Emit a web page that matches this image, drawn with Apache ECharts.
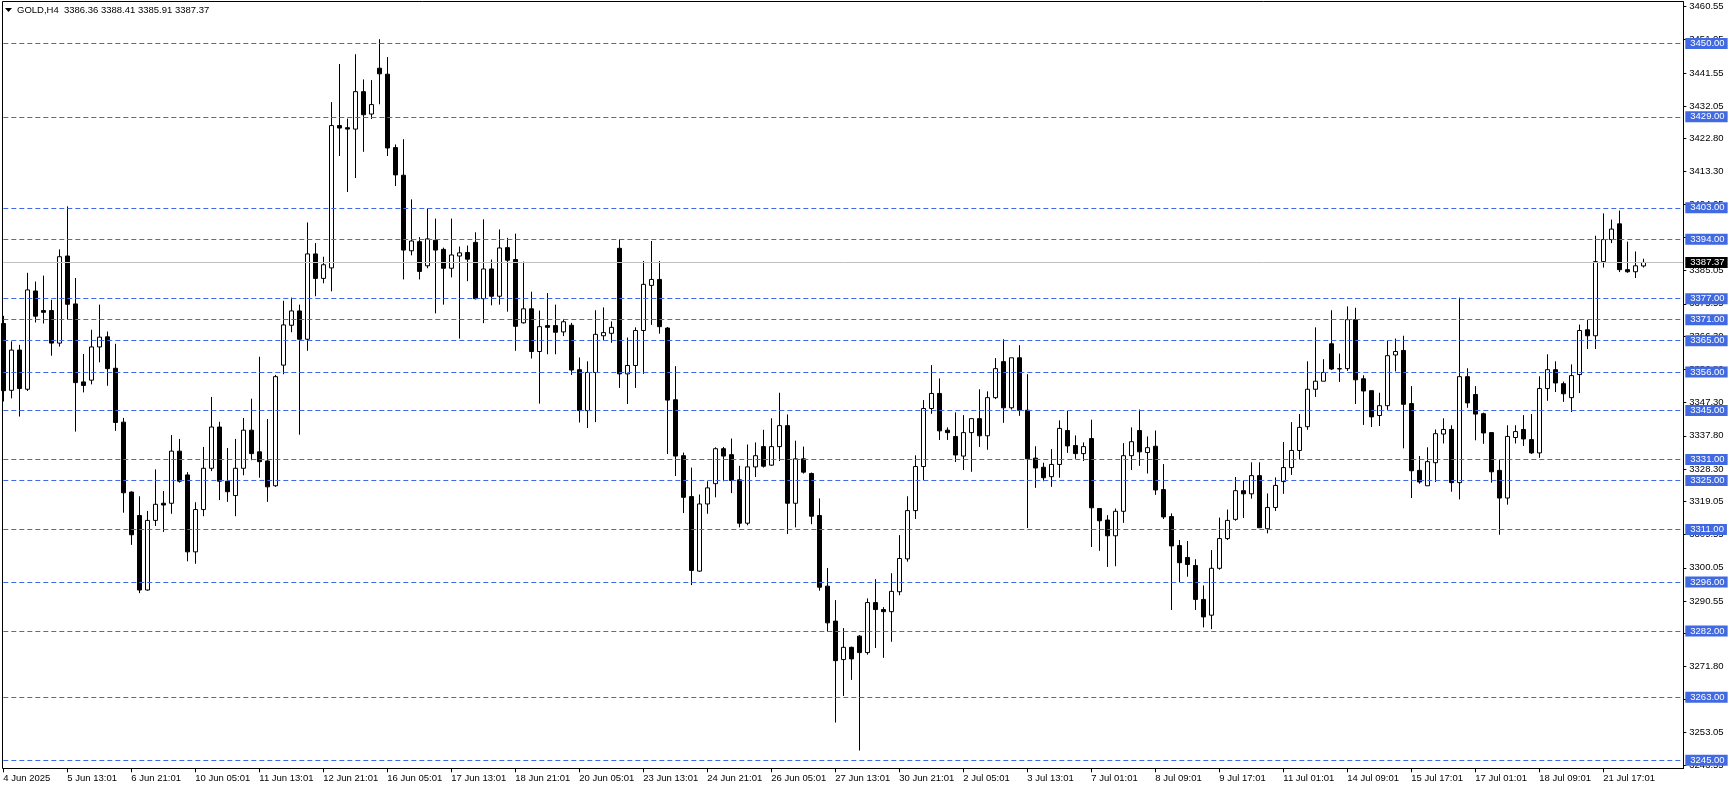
<!DOCTYPE html>
<html><head><meta charset="utf-8">
<script src="https://cdn.jsdelivr.net/npm/echarts@6/dist/echarts.min.js"></script>
<style>html,body{margin:0;padding:0;background:#fff}#c{width:1729px;height:789px}</style>
</head><body><div id="c"></div>
<script>
// ---- DATA ----
const tradingDays = ['4 Jun','5 Jun','6 Jun','9 Jun','10 Jun','11 Jun','12 Jun','13 Jun','16 Jun','17 Jun','18 Jun','19 Jun','20 Jun','23 Jun','24 Jun','25 Jun','26 Jun','27 Jun','30 Jun','1 Jul','2 Jul','3 Jul','4 Jul','7 Jul','8 Jul','9 Jul','10 Jul','11 Jul','14 Jul','15 Jul','16 Jul','17 Jul','18 Jul','21 Jul','22 Jul'];
const barHours = ['01:01','05:01','09:01','13:01','17:01','21:01'];
const missingBars = ['4 Jun 01:01','4 Jul 21:01'];
const firstLabel = '4 Jun 2025';
const tickLabels = ['5 Jun 13:01','6 Jun 21:01','10 Jun 05:01','11 Jun 13:01','12 Jun 21:01','16 Jun 05:01','17 Jun 13:01','18 Jun 21:01','20 Jun 05:01','23 Jun 13:01','24 Jun 21:01','26 Jun 05:01','27 Jun 13:01','30 Jun 21:01','2 Jul 05:01','3 Jul 13:01','7 Jul 01:01','8 Jul 09:01','9 Jul 17:01','11 Jul 01:01','14 Jul 09:01','15 Jul 17:01','17 Jul 01:01','18 Jul 09:01','21 Jul 17:01'];
const priceLabels = [3460.55,3451.05,3441.55,3432.05,3422.80,3413.30,3404.05,3394.55,3385.05,3375.55,3366.30,3356.80,3347.30,3337.80,3328.30,3319.05,3309.55,3300.05,3290.55,3281.30,3271.80,3262.55,3253.05,3243.55];
const levels = [3450,3429,3403,3394,3377,3371,3365,3356,3345,3331,3325,3311,3296,3282,3263,3245];
const bidPrice = 3387.37;
const header = 'GOLD,H4  3386.36 3388.41 3385.91 3387.37';

const open = [3369.9,3350.8,3362.3,3351.1,3379.2,3373.6,3373.6,3364.3,3389.2,3375.5,3353.2,3353.7,3363.2,3366.1,3357.1,3341.7,3321.7,3315.0,3293.7,3313.6,3318.5,3318.5,3333.4,3326.6,3304.6,3316.7,3328.5,3340.3,3324.8,3320.7,3328.5,3339.4,3333.2,3330.6,3323.5,3358.0,
3369.4,3373.5,3365.4,3389.8,3382.8,3385.8,3426.5,3425.9,3425.5,3436.2,3429.8,3442.9,3441.2,3420.2,3412.3,3390.7,3393.3,3386.4,3393.7,3391.1,3385.7,3389.2,3390.2,3393.1,3377.0,3385.5,3377.7,3391.6,3388.2,3370.1,3374.1,3361.9,3369.3,3369.3,
3367.5,3369.4,3356.7,3345.0,3355.9,3366.4,3367.1,3391.4,3355.5,3357.9,3367.9,3380.8,3382.5,3368.6,3348.1,3332.1,3320.4,3299.1,3318.3,3324.1,3334.1,3332.4,3325.2,3312.8,3328.9,3334.7,3329.4,3334.7,3340.7,3318.5,3331.2,3327.0,
3315.0,3294.8,3284.8,3273.8,3277.3,3280.5,3275.8,3290.1,3288.1,3287.5,3293.2,3302.6,3316.4,3329.0,3345.6,3349.9,3339.4,3337.6,3332.0,3338.7,3342.7,3337.8,3348.7,3359.0,3345.8,3360.1,3345.1,3331.4,3328.8,3326.1,3329.6,3339.3,3335.0,3332.7,3337.0,3317.0,
3313.7,3309.2,3316.2,3332.1,3339.3,3333.0,3334.8,3322.4,3314.7,3306.4,3303.0,3300.7,3291.0,3286.5,3299.9,3308.4,3313.9,3322.1,3321.2,3326.4,3311.2,3317.3,3324.7,3328.7,3333.6,3340.4,3351.1,3353.4,3364.1,3357.0,3357.0,3371.0,3354.1,3350.7,3343.6,
3346.4,3360.9,3362.2,3347.0,3327.9,3323.5,3330.1,3338.3,3339.6,3324.4,3354.7,3349.6,3344.1,3338.7,3327.9,3320.0,3337.3,3339.6,3336.7,3332.9,3351.3,3356.7,3352.7,3348.7,3355.3,3368.1,3366.4,3387.6,3393.9,3398.4,3385.3,3384.7,3386.36];
const high = [3372.1,3364.8,3363.8,3384.4,3381.9,3383.6,3376.7,3391.1,3403.4,3382.9,3361.2,3368.1,3375.3,3367.6,3364.1,3342.9,3321.9,3320.5,3316.3,3328.2,3322.0,3338.0,3336.9,3327.4,3318.8,3334.6,3348.9,3341.8,3334.3,3336.9,3342.9,3348.4,3360.4,3342.6,3355.2,3376.4,
3377.3,3375.3,3398.8,3392.9,3389.0,3433.2,3444.1,3428.5,3446.9,3439.7,3439.5,3451.2,3446.1,3421.1,3422.6,3405.4,3394.6,3402.8,3399.9,3391.6,3399.9,3391.9,3392.2,3396.0,3399.7,3388.2,3396.8,3394.4,3395.6,3387.6,3379.0,3373.6,3378.6,3375.3,
3371.2,3370.1,3360.2,3359.1,3373.7,3374.5,3370.5,3394.0,3365.9,3368.8,3387.8,3393.5,3387.8,3368.9,3357.7,3333.0,3328.7,3321.0,3324.8,3334.5,3334.6,3337.0,3329.2,3335.3,3335.9,3339.5,3342.8,3350.1,3343.9,3336.4,3334.7,3327.3,
3319.9,3300.0,3290.8,3282.8,3277.5,3280.8,3291.3,3296.8,3288.8,3298.5,3309.4,3320.5,3332.2,3348.0,3358.0,3354.2,3340.2,3344.5,3343.7,3342.7,3351.1,3350.5,3360.0,3365.4,3360.1,3363.7,3355.4,3334.8,3330.1,3334.0,3342.2,3344.9,3337.9,3335.9,3342.4,3317.0,
3315.1,3317.0,3335.7,3340.2,3345.3,3337.6,3339.3,3329.7,3315.6,3308.0,3307.7,3302.5,3295.0,3305.1,3314.4,3316.7,3326.0,3325.0,3330.2,3330.2,3321.3,3325.9,3336.0,3341.7,3344.0,3359.1,3368.8,3359.7,3373.7,3361.3,3374.8,3374.4,3355.1,3350.7,3350.1,
3365.0,3365.6,3366.4,3352.0,3332.0,3334.5,3339.6,3342.8,3340.8,3377.3,3357.1,3352.0,3344.4,3338.7,3331.0,3340.8,3340.8,3343.7,3344.0,3354.8,3361.1,3359.1,3353.3,3358.2,3369.6,3370.9,3395.0,3401.4,3399.6,3402.2,3393.3,3390.5,3388.41];
const low = [3347.6,3348.5,3343.3,3350.6,3370.2,3369.9,3360.7,3363.3,3371.0,3339.0,3350.2,3352.5,3358.8,3352.1,3339.2,3315.8,3306.6,3292.8,3293.5,3312.0,3310.3,3315.5,3324.4,3301.9,3301.2,3314.8,3327.7,3319.4,3318.9,3314.8,3326.5,3330.8,3325.8,3318.9,3323.2,3355.4,
3367.4,3338.1,3362.1,3377.7,3381.4,3379.1,3417.8,3407.5,3411.5,3419.0,3428.4,3432.6,3417.8,3409.2,3382.5,3389.4,3382.5,3385.7,3372.8,3375.3,3383.1,3365.6,3382.0,3376.8,3370.0,3375.1,3375.3,3373.3,3362.1,3369.9,3359.9,3347.0,3361.1,3361.1,
3366.3,3355.2,3341.6,3340.0,3341.7,3365.1,3364.4,3351.5,3346.9,3351.5,3355.5,3369.5,3367.0,3332.6,3326.3,3315.7,3295.1,3298.9,3315.5,3320.2,3324.8,3321.4,3311.6,3312.2,3326.0,3328.7,3329.2,3330.6,3309.7,3311.6,3327.0,3312.5,
3293.5,3281.8,3255.8,3263.4,3268.0,3247.8,3275.2,3277.1,3274.3,3278.9,3292.2,3301.8,3314.0,3325.1,3344.1,3336.6,3336.6,3330.3,3328.0,3327.5,3334.6,3333.8,3348.3,3341.5,3345.3,3343.5,3311.4,3322.9,3324.8,3323.2,3325.8,3332.9,3331.2,3330.6,3306.0,3304.9,
3300.3,3300.5,3312.9,3328.0,3329.2,3327.0,3320.9,3314.0,3288.0,3296.0,3297.5,3288.0,3283.0,3282.5,3299.5,3308.0,3313.5,3314.3,3319.8,3311.5,3309.9,3316.3,3321.2,3326.6,3331.1,3339.5,3348.9,3353.4,3356.6,3353.2,3356.3,3346.9,3340.9,3340.3,3340.6,
3345.2,3356.2,3334.2,3320.0,3324.1,3323.5,3324.6,3335.6,3321.8,3319.6,3345.8,3336.5,3335.5,3324.4,3309.5,3318.1,3335.6,3334.9,3332.6,3331.5,3347.8,3350.3,3347.5,3344.6,3350.0,3362.6,3362.6,3385.9,3392.9,3384.6,3384.4,3382.9,3385.91];
const close = [3350.7,3362.3,3351.3,3379.5,3372.0,3373.1,3364.3,3389.0,3375.4,3353.0,3352.2,3363.2,3366.0,3357.0,3341.6,3321.5,3309.5,3293.7,3313.6,3318.2,3318.0,3333.4,3324.8,3304.6,3316.7,3328.5,3340.3,3324.8,3321.8,3328.5,3339.4,3332.7,3330.4,3323.2,3354.7,3369.5,
3373.5,3365.4,3389.8,3382.8,3386.7,3426.5,3425.8,3425.5,3436.2,3429.6,3432.5,3441.3,3420.1,3412.4,3390.9,3393.5,3384.8,3394.1,3390.9,3385.7,3389.5,3390.1,3388.3,3377.0,3385.5,3377.7,3391.5,3388.0,3369.1,3374.1,3361.9,3369.0,3368.8,3367.4,
3370.4,3356.6,3345.0,3355.9,3366.8,3367.3,3368.8,3355.5,3357.9,3367.9,3381.1,3382.5,3369.0,3348.0,3332.0,3320.2,3299.3,3318.3,3322.9,3334.1,3332.0,3325.0,3312.8,3328.9,3332.1,3329.1,3334.7,3340.7,3318.5,3331.2,3327.4,3314.8,
3294.5,3284.3,3273.5,3277.3,3274.0,3275.8,3290.1,3288.1,3287.5,3293.3,3302.7,3316.4,3329.0,3345.6,3349.9,3339.2,3338.7,3332.3,3338.7,3342.7,3337.8,3348.7,3357.0,3345.8,3360.1,3345.1,3331.2,3328.6,3325.8,3329.6,3339.9,3334.9,3332.7,3334.7,3317.2,3313.5,
3309.2,3316.2,3332.1,3336.1,3333.2,3334.4,3322.3,3314.6,3306.3,3301.5,3301.0,3291.0,3286.0,3299.9,3308.4,3313.6,3322.1,3321.2,3326.4,3311.5,3317.3,3323.6,3328.7,3333.6,3340.2,3351.1,3353.4,3355.9,3356.9,3356.9,3371.0,3353.8,3350.6,3343.2,3346.4,
3360.7,3361.9,3346.8,3327.8,3324.6,3330.4,3338.4,3339.6,3324.4,3354.7,3347.2,3344.0,3338.6,3327.5,3320.0,3337.6,3339.0,3336.9,3332.9,3351.3,3356.7,3352.9,3349.8,3355.0,3367.9,3366.4,3387.6,3393.9,3396.9,3385.3,3384.7,3386.4,3387.37];

// ---- BUILD ----
const categories = [];
tradingDays.forEach(d => barHours.forEach(h => {
  const s = d + ' ' + h;
  if (missingBars.indexOf(s) < 0) categories.push(s);
}));
categories.length = open.length;
const PAD = 5;
for (let i = 0; i < PAD; i++) categories.push('pad' + i);
const candles = open.map((o, i) => [o, close[i], low[i], high[i]]);
const tickSet = new Set(tickLabels);
const showTick = (idx, val) => idx === 0 || tickSet.has(val);
const FONT = 'Liberation Sans, Arial, sans-serif';
const LINE_BLUE = '#4169E1';

const markData = levels.map(v => ({ yAxis: v }));
markData.push({
  yAxis: bidPrice,
  lineStyle: { type: 'solid', color: '#C0C0C0', width: 1 },
  label: { backgroundColor: '#000000', color: '#ffffff' }
});

const chart = echarts.init(document.getElementById('c'), null, { renderer: 'canvas' });
chart.setOption({
  animation: false,
  backgroundColor: '#ffffff',
  grid: { left: 3.3, right: 1729 - 1683.3, top: 2, bottom: 789 - 768.3, containLabel: false },
  xAxis: {
    type: 'category',
    data: categories,
    boundaryGap: false,
    axisLine: { show: true, lineStyle: { color: '#000', width: 1 } },
    axisTick: { show: true, interval: showTick, length: 4, lineStyle: { color: '#000' } },
    axisLabel: {
      interval: showTick, align: 'left', margin: 5, color: '#000',
      fontSize: 9.5, fontFamily: FONT,
      formatter: (val, idx) => idx === 0 ? firstLabel : val
    },
    splitLine: { show: false }
  },
  yAxis: {
    type: 'value', position: 'right', scale: true,
    min: 3242.71, max: 3461.84,
    axisLine: { show: true, lineStyle: { color: '#000', width: 1 } },
    axisTick: { show: true, length: 3, customValues: priceLabels, lineStyle: { color: '#000' } },
    axisLabel: {
      customValues: priceLabels, margin: 6, color: '#000', fontSize: 9.5, fontFamily: FONT,
      formatter: v => v.toFixed(2)
    },
    splitLine: { show: false }
  },
  series: [{
    type: 'candlestick',
    data: candles,
    barWidth: 5,
    clip: true,
    silent: true,
    itemStyle: {
      color: '#ffffff', color0: '#000000',
      borderColor: '#000000', borderColor0: '#000000', borderColorDoji: '#000000',
      borderWidth: 1
    },
    markLine: {
      silent: true,
      symbol: ['none', 'none'],
      animation: false,
      lineStyle: { type: [5, 3], color: LINE_BLUE, width: 1 },
      label: {
        show: true, position: 'end', distance: 2,
        formatter: p => Number(p.value).toFixed(2),
        backgroundColor: LINE_BLUE, color: '#ffffff',
        fontSize: 9.5, fontFamily: FONT, lineHeight: 11,
        padding: [0, 3, 0, 5]
      },
      emphasis: { disabled: true },
      data: markData
    }
  }],
  graphic: [
    { type: 'rect', silent: true, z: 100,
      shape: { x: 2.5, y: 1.5, width: 1681, height: 767 },
      style: { fill: 'none', stroke: '#000', lineWidth: 1 } },
    { type: 'polygon', silent: true, z: 100,
      shape: { points: [[5, 8], [12, 8], [8.5, 12]] }, style: { fill: '#000' } },
    { type: 'text', silent: true, z: 100, x: 17, y: 10,
      style: { text: header, fill: '#000', font: '9.5px ' + FONT, verticalAlign: 'middle' } }
  ]
});
</script>
</body></html>
